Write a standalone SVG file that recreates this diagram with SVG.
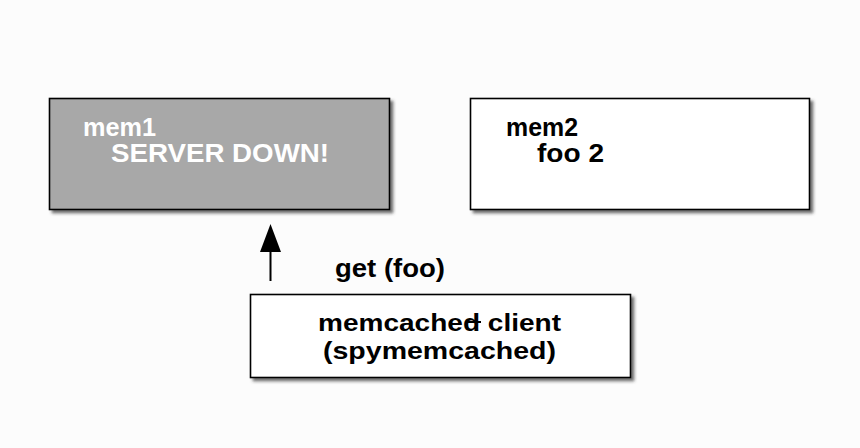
<svg xmlns="http://www.w3.org/2000/svg" width="860" height="448" viewBox="0 0 860 448">
  <defs>
    <style>
      .box { stroke: #000; stroke-width: 1.6; filter: url(#shadow); }
      .lbl { font-family: "Liberation Sans", Arial, sans-serif; font-weight: bold; font-size: 26px; }
      .sm { font-size: 24.5px; }
      .w { fill: #fff; }
      .k { fill: #000; }
      .conn { stroke: #000; stroke-width: 2; fill: none; }
    </style>
    <filter id="shadow" x="-5%" y="-5%" width="115%" height="125%">
      <feDropShadow dx="3" dy="3" stdDeviation="1.8" flood-color="#333" flood-opacity="0.7"/>
    </filter>
  </defs>
  <rect x="0" y="0" width="860" height="448" fill="#fcfcfc"/>

  <g id="mem1">
    <rect class="box" x="49.5" y="98.5" width="340" height="111" fill="#a8a8a8"/>
    <text class="lbl w" x="83" y="136" textLength="73" lengthAdjust="spacingAndGlyphs">mem1</text>
    <text class="lbl w" x="111" y="162" textLength="218" lengthAdjust="spacingAndGlyphs">SERVER DOWN!</text>
  </g>

  <g id="mem2">
    <rect class="box" x="470.5" y="98.5" width="339" height="111" fill="#fff"/>
    <text class="lbl k" x="506" y="136" textLength="72" lengthAdjust="spacingAndGlyphs">mem2</text>
    <text class="lbl k" x="537" y="162" textLength="67" lengthAdjust="spacingAndGlyphs">foo 2</text>
  </g>

  <g id="client">
    <rect class="box" x="250.5" y="294.5" width="380" height="83" fill="#fff"/>
    <text class="lbl sm k" x="318" y="331" textLength="243" lengthAdjust="spacingAndGlyphs">memcached client</text>
    <text class="lbl sm k" x="323" y="359" textLength="233" lengthAdjust="spacingAndGlyphs">(spymemcached)</text>
  </g>

  <g id="connectors">
    <polygon points="270.5,224 260,252 281,252" fill="#000"/>
    <line class="conn" x1="270.5" y1="281" x2="270.5" y2="250"/>
    <line class="conn" x1="468" y1="322" x2="481" y2="322"/>
    <text class="lbl k" x="335" y="277" textLength="110" lengthAdjust="spacingAndGlyphs">get (foo)</text>
  </g>
</svg>
